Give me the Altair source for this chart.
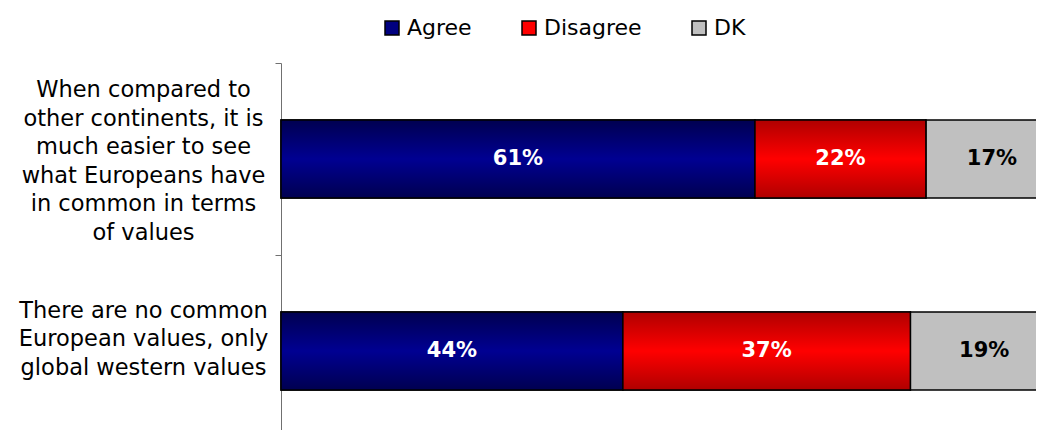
import altair as alt
import pandas as pd

questions = [
    "When compared to|other continents, it is|much easier to see|what Europeans have|in common in terms|of values",
    "There are no common|European values, only|global western values",
]
categories = ["Agree", "Disagree", "DK"]
agree = [61, 44]
disagree = [22, 37]
dk = [17, 19]
colors = ["#000080", "#ff0000", "#c0c0c0"]

rows = []
for i, q in enumerate(questions):
    for j, (c, vals) in enumerate(zip(categories, [agree, disagree, dk])):
        rows.append({"question": q, "category": c, "value": vals[i], "order": j})
df = pd.DataFrame(rows)

FONT = "DejaVu Sans"
LH = 28.5

base = alt.Chart(df).transform_stack(
    stack="value", as_=["x0", "x1"], groupby=["question"], sort=[alt.SortField("order")]
).transform_calculate(
    mid="(datum.x0 + datum.x1) / 2", label="datum.value + '%'"
)

y = alt.Y(
    "question:N",
    sort=questions,
    title=None,
    scale=alt.Scale(paddingInner=0, paddingOuter=0, range=[0, 384]),
    axis=alt.Axis(
        domainColor="#707070",
        tickColor="#707070",
        tickSize=6,
        tickBand="extent",
        grid=False,
        labelAlign="center",
        labelBaseline="middle",
        labelPadding=132,
        labelOffset=-2.5 * LH + 2,
        labelFont=FONT,
        labelFontSize=22.5,
        labelColor="black",
        labelLineHeight=LH,
        labelLimit=0,
        labelExpr="split((length(split(datum.label, '|')) < 6 ? ' |' : '') + datum.label, '|')",
    ),
)
x = alt.X("x0:Q", scale=alt.Scale(domain=[0, 100], nice=False, range=[0, 777]), axis=None)
band = alt.RelativeBandSize(0.405)

bars = base.mark_bar(height=band, stroke="black", strokeWidth=1.5).encode(
    x=x,
    x2="x1:Q",
    y=y,
    color=alt.Color(
        "category:N",
        scale=alt.Scale(domain=categories, range=colors),
        legend=alt.Legend(
            title=None,
            orient="none",
            legendX=100,
            legendY=-46,
            direction="horizontal",
            symbolType="square",
            symbolSize=196,
            symbolStrokeColor="black",
            symbolStrokeWidth=1.5,
            labelFont=FONT,
            labelFontSize=22,
            labelColor="black",
            labelOffset=4,
            columnPadding=46,
        ),
    ),
)

blue_grad = {
    "gradient": "linear", "x1": 0, "y1": 0, "x2": 0, "y2": 1,
    "stops": [
        {"offset": 0, "color": "#000050"},
        {"offset": 0.5, "color": "#000092"},
        {"offset": 1, "color": "#000050"},
    ],
}
red_grad = {
    "gradient": "linear", "x1": 0, "y1": 0, "x2": 0, "y2": 1,
    "stops": [
        {"offset": 0, "color": "#b00000"},
        {"offset": 0.5, "color": "#ff0000"},
        {"offset": 1, "color": "#b00000"},
    ],
}

agree_layer = base.transform_filter(alt.datum.category == "Agree").mark_bar(
    height=band, stroke="black", strokeWidth=1.5, fill=blue_grad
).encode(x=x, x2="x1:Q", y=y)

dis_layer = base.transform_filter(alt.datum.category == "Disagree").mark_bar(
    height=band, stroke="black", strokeWidth=1.5, fill=red_grad
).encode(x=x, x2="x1:Q", y=y)

text = base.mark_text(font=FONT, fontWeight="bold", fontSize=21).encode(
    x=alt.X("mid:Q"),
    y=y,
    text="label:N",
    color=alt.condition(alt.datum.category == "DK", alt.value("black"), alt.value("white")),
)

chart = alt.layer(bars, agree_layer, dis_layer, text).properties(
    width=755,
    height=367,
    autosize=alt.AutoSizeParams(type="none"),
    padding={"left": 273, "top": 55, "right": 0, "bottom": 0},
).configure_view(stroke=None)

chart.save("out.html", embed_options={"renderer": "svg", "actions": False})
